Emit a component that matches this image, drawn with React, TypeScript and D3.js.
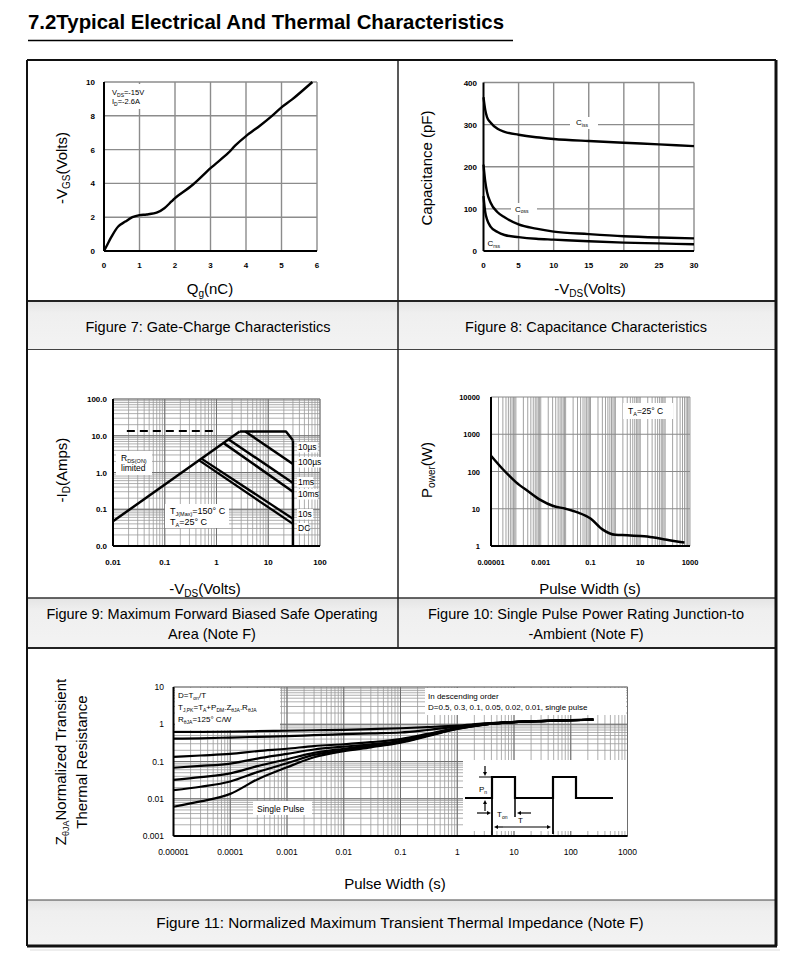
import React from 'react';
import * as d3 from 'd3';

const FONT = "'Liberation Sans', Arial, Helvetica, sans-serif";

// ---------------- Figure 7 : Gate charge ----------------
const fig7Qg = [0, 0.1, 0.2, 0.4, 0.6, 0.8, 1.0, 1.2, 1.5, 1.7, 1.9, 2.0, 2.5, 3.0, 3.5, 3.7, 4.0, 4.4, 4.7, 5.0, 5.3, 5.87];
const fig7Vgs = [0, 0.4, 0.8, 1.45, 1.74, 2.0, 2.12, 2.16, 2.28, 2.53, 2.93, 3.13, 3.92, 4.9, 5.8, 6.25, 6.8, 7.43, 7.94, 8.5, 8.97, 10];
const fig7XTicks = [0, 1, 2, 3, 4, 5, 6];
const fig7YTicks = [0, 2, 4, 6, 8, 10];

// ---------------- Figure 8 : Capacitance ----------------
const fig8Vds = [0, 0.25, 0.5, 1, 2, 3, 5, 7.5, 10, 15, 20, 25, 30];
const fig8Ciss = [365, 335, 318, 305, 290, 283, 276, 270, 266, 261, 257, 253, 249];
const fig8Coss = [205, 165, 140, 115, 92, 80, 63, 53, 46, 40, 35, 32, 30];
const fig8Crss = [130, 92, 75, 58, 45, 38, 33, 29, 27, 23, 20, 18, 16];
const fig8XTicks = [0, 5, 10, 15, 20, 25, 30];
const fig8YTicks = [0, 100, 200, 300, 400];

// ---------------- Figure 9 : SOA ----------------
const soaRdsV = [0.01, 2.8];
const soaRdsI = [0.047, 13];
const soa10usV = [2.8, 22, 30];
const soa10usI = [13, 13, 7.5];
const soaVmaxV = [30, 30];
const soaVmaxI = [7.5, 0.01];
const soa100usV = [3.6, 30];
const soa100usI = [13, 1.7];
const soa1msV = [1.75, 30];
const soa1msI = [7.8, 0.52];
const soa10msV = [1.4, 30];
const soa10msI = [6.2, 0.3];
const soa10sV = [0.52, 30];
const soa10sI = [2.35, 0.055];
const soaDcV = [0.47, 30];
const soaDcI = [2.1, 0.04];
const soaDashV = [0.0185, 0.87];
const soaDashI = [13.5, 13.5];
const fig9XTicks = [0.01, 0.1, 1, 10, 100];
const fig9XLabels = ['0.01', '0.1', '1', '10', '100'];
const fig9YTicks = [0.01, 0.1, 1, 10, 100];
const fig9YLabels = ['0.0', '0.1', '1.0', '10.0', '100.0'];
const soaLabels = ['10µs', '100µs', '1ms', '10ms', '10s', 'DC'];

// ---------------- Figure 10 : Single pulse power ----------------
const fig10Pulse = [1e-5, 3e-5, 1e-4, 3e-4, 1e-3, 3e-3, 0.01, 0.03, 0.1, 0.3, 1, 3, 10, 30, 100, 300, 600];
const fig10Power = [265, 115, 52, 30, 17, 12, 10, 8, 5.5, 2.8, 2.0, 1.95, 1.85, 1.72, 1.5, 1.32, 1.25];
const fig10XTicks = [1e-5, 1e-3, 0.1, 10, 1000];
const fig10XLabels = ['0.00001', '0.001', '0.1', '10', '1000'];
const fig10YTicks = [1, 10, 100, 1000, 10000];
const fig10YLabels = ['1', '10', '100', '1000', '10000'];

// ---------------- Figure 11 : Transient thermal impedance ----------------
const zthPulse = [1e-5, 3e-5, 1e-4, 3e-4, 1e-3, 3e-3, 1e-2, 3e-2, 0.1, 0.3, 1, 3, 10, 30, 100, 250];
const zthD05 = [0.62, 0.62, 0.63, 0.65, 0.67, 0.69, 0.71, 0.74, 0.78, 0.84, 0.92, 1.05, 1.16, 1.23, 1.29, 1.33];
const zthD03 = [0.41, 0.42, 0.44, 0.46, 0.48, 0.51, 0.54, 0.57, 0.6, 0.7, 0.86, 1.02, 1.15, 1.22, 1.29, 1.33];
const zthD01 = [0.133, 0.145, 0.16, 0.19, 0.22, 0.26, 0.29, 0.33, 0.4, 0.55, 0.8, 1.0, 1.14, 1.22, 1.28, 1.33];
const zthD005 = [0.068, 0.076, 0.088, 0.12, 0.16, 0.21, 0.25, 0.29, 0.36, 0.52, 0.78, 0.99, 1.14, 1.22, 1.28, 1.33];
const zthD002 = [0.032, 0.038, 0.048, 0.075, 0.115, 0.17, 0.22, 0.27, 0.34, 0.5, 0.77, 0.99, 1.14, 1.22, 1.28, 1.33];
const zthD001 = [0.017, 0.021, 0.029, 0.052, 0.09, 0.15, 0.2, 0.25, 0.33, 0.49, 0.76, 0.98, 1.14, 1.22, 1.28, 1.33];
const zthSingle = [0.0061, 0.0085, 0.0135, 0.033, 0.07, 0.13, 0.19, 0.24, 0.32, 0.48, 0.75, 0.98, 1.14, 1.22, 1.28, 1.33];
const zthSeries = [zthD05, zthD03, zthD01, zthD005, zthD002, zthD001, zthSingle];
const fig11XTicks = [1e-5, 1e-4, 1e-3, 1e-2, 0.1, 1, 10, 100, 1000];
const fig11XLabels = ['0.00001', '0.0001', '0.001', '0.01', '0.1', '1', '10', '100', '1000'];
const fig11YTicks = [0.001, 0.01, 0.1, 1, 10];
const fig11YLabels = ['0.001', '0.01', '0.1', '1', '10'];

function logGrid(lo: number, hi: number): number[] {
  const out: number[] = [];
  for (let e = Math.floor(Math.log10(lo) + 1e-9); e < Math.log10(hi) + 1e-9; e++) {
    for (let k = 1; k < 10; k++) {
      const v = k * Math.pow(10, e);
      if (v >= lo * 0.999 && v <= hi * 1.001) out.push(v);
    }
  }
  return out;
}

const GRID = '#8c8c8c';
const TITLE = 15;

function Fig7() {
  const x = d3.scaleLinear().domain([0, 6]).range([104, 317]);
  const y = d3.scaleLinear().domain([0, 10]).range([251, 82]);
  const line = d3.line<number>().x((d, i) => x(fig7Qg[i])).y(d => y(d)).curve(d3.curveCatmullRom);
  return (
    <g>
      {fig7XTicks.slice(1).map(t => <line key={'gx' + t} x1={x(t)} x2={x(t)} y1={y(0)} y2={y(10)} stroke={GRID} strokeWidth={1.4} />)}
      {fig7YTicks.slice(1).map(t => <line key={'gy' + t} x1={x(0)} x2={x(6)} y1={y(t)} y2={y(t)} stroke={GRID} strokeWidth={1.4} />)}
      <line x1={x(0)} x2={x(0)} y1={y(0)} y2={y(10)} stroke="#000" strokeWidth={2} />
      <line x1={x(0)} x2={x(6)} y1={y(0)} y2={y(0)} stroke="#000" strokeWidth={2} />
      <rect x={106} y={84} width={38} height={25} fill="#fff" />
      <text x={112} y={95} fontSize={7.5}>V<tspan fontSize={5} dy={1.5}>DS</tspan><tspan dy={-1.5}>=-15V</tspan></text>
      <text x={112} y={104} fontSize={7.5}>I<tspan fontSize={5} dy={1.5}>D</tspan><tspan dy={-1.5}>=-2.6A</tspan></text>
      <path d={line(fig7Vgs) || ''} fill="none" stroke="#000" strokeWidth={2.4} />
      {fig7XTicks.map(t => <text key={'tx' + t} x={x(t)} y={267.5} fontSize={8} fontWeight="bold" textAnchor="middle">{t}</text>)}
      {fig7YTicks.map(t => <text key={'ty' + t} x={95} y={y(t) + 3} fontSize={8} fontWeight="bold" textAnchor="end">{t}</text>)}
      <text x={210} y={294} fontSize={TITLE} textAnchor="middle">Q<tspan fontSize={10} dy={3}>g</tspan><tspan dy={-3}>(nC)</tspan></text>
      <text transform="translate(67,168) rotate(-90)" fontSize={TITLE} textAnchor="middle">-V<tspan fontSize={10} dy={3}>GS</tspan><tspan dy={-3}>(Volts)</tspan></text>
    </g>
  );
}

function Fig8() {
  const x = d3.scaleLinear().domain([0, 30]).range([483.5, 694]);
  const y = d3.scaleLinear().domain([0, 400]).range([251, 82.5]);
  const mk = (arr: number[]) => d3.line<number>().x((d, i) => x(fig8Vds[i])).y(d => y(d)).curve(d3.curveMonotoneX)(arr) || '';
  return (
    <g>
      {fig8XTicks.slice(1).map(t => <line key={'gx' + t} x1={x(t)} x2={x(t)} y1={y(0)} y2={y(400)} stroke={GRID} strokeWidth={1.4} />)}
      {fig8YTicks.slice(1).map(t => <line key={'gy' + t} x1={x(0)} x2={x(30)} y1={y(t)} y2={y(t)} stroke={GRID} strokeWidth={1.4} />)}
      <line x1={x(0)} x2={x(0)} y1={y(0)} y2={y(400)} stroke="#000" strokeWidth={2} />
      <line x1={x(0)} x2={x(30)} y1={y(0)} y2={y(0)} stroke="#000" strokeWidth={2} />
      <path d={mk(fig8Ciss)} fill="none" stroke="#000" strokeWidth={2.4} />
      <path d={mk(fig8Coss)} fill="none" stroke="#000" strokeWidth={2.4} />
      <path d={mk(fig8Crss)} fill="none" stroke="#000" strokeWidth={2.4} />
      <rect x={570} y={117} width={28} height={12} fill="#fff" />
      <text x={576} y={125} fontSize={8}>C<tspan fontSize={5} dy={1.5}>iss</tspan></text>
      <rect x={511} y={203} width={26} height={12} fill="#fff" />
      <text x={515} y={211.5} fontSize={8}>C<tspan fontSize={5} dy={1.5}>oss</tspan></text>
      <rect x={486} y={238} width={18} height={11} fill="#fff" />
      <text x={487.5} y={246} fontSize={8}>C<tspan fontSize={5} dy={1.5}>rss</tspan></text>
      {fig8XTicks.map(t => <text key={'tx' + t} x={x(t)} y={267.5} fontSize={8} fontWeight="bold" textAnchor="middle">{t}</text>)}
      {fig8YTicks.map(t => <text key={'ty' + t} x={477} y={y(t) + 3} fontSize={8} fontWeight="bold" textAnchor="end">{t}</text>)}
      <text x={590} y={294} fontSize={TITLE} textAnchor="middle">-V<tspan fontSize={10} dy={3}>DS</tspan><tspan dy={-3}>(Volts)</tspan></text>
      <text transform="translate(432,168) rotate(-90)" fontSize={TITLE} textAnchor="middle">Capacitance (pF)</text>
    </g>
  );
}

function Fig9() {
  const x = d3.scaleLog().domain([0.01, 100]).range([113, 320]);
  const y = d3.scaleLog().domain([0.01, 100]).range([546, 399]);
  const mk = (vs: number[], is: number[]) => d3.line<number>().x(d => x(d)).y((d, i) => y(is[i]))(vs) || '';
  const grid = logGrid(0.01, 100);
  const labelY = [450, 465, 485, 497, 517, 531];
  return (
    <g>
      {grid.map(v => <line key={'gx' + v} x1={x(v)} x2={x(v)} y1={y(0.01)} y2={y(100)} stroke="#9a9a9a" strokeWidth={0.8} />)}
      {grid.map(v => <line key={'gy' + v} x1={x(0.01)} x2={x(100)} y1={y(v)} y2={y(v)} stroke="#9a9a9a" strokeWidth={0.8} />)}
      {fig9XTicks.map(v => <line key={'mx' + v} x1={x(v)} x2={x(v)} y1={y(0.01)} y2={y(100)} stroke="#707070" strokeWidth={1} />)}
      {fig9YTicks.map(v => <line key={'my' + v} x1={x(0.01)} x2={x(100)} y1={y(v)} y2={y(v)} stroke="#707070" strokeWidth={1} />)}
      <line x1={x(0.01)} x2={x(0.01)} y1={y(0.01)} y2={y(100)} stroke="#000" strokeWidth={2} />
      <line x1={x(0.01)} x2={x(100)} y1={y(0.01)} y2={y(0.01)} stroke="#000" strokeWidth={2} />
      <path d={mk(soaDashV, soaDashI)} fill="none" stroke="#000" strokeWidth={2} strokeDasharray="8,5" />
      <path d={mk(soaRdsV, soaRdsI)} fill="none" stroke="#000" strokeWidth={2.5} />
      <path d={mk(soa10usV, soa10usI)} fill="none" stroke="#000" strokeWidth={2.5} strokeLinejoin="round" />
      <path d={mk(soaVmaxV, soaVmaxI)} fill="none" stroke="#000" strokeWidth={2.5} />
      <path d={mk(soa100usV, soa100usI)} fill="none" stroke="#000" strokeWidth={2.5} />
      <path d={mk(soa1msV, soa1msI)} fill="none" stroke="#000" strokeWidth={2.5} />
      <path d={mk(soa10msV, soa10msI)} fill="none" stroke="#000" strokeWidth={2.5} />
      <path d={mk(soa10sV, soa10sI)} fill="none" stroke="#000" strokeWidth={2.3} />
      <path d={mk(soaDcV, soaDcI)} fill="none" stroke="#000" strokeWidth={2.3} />
      {soaLabels.map((t, i) => (
        <g key={t}>
          <rect x={297} y={labelY[i] - 8} width={t.length * 4.7 + 2} height={10.5} fill="#fff" />
          <text x={298} y={labelY[i]} fontSize={8.5}>{t}</text>
        </g>
      ))}
      <rect x={116} y={451} width={36} height={24} fill="#fff" />
      <text x={121} y={461} fontSize={8.5}>R<tspan fontSize={5.5} dy={1.5}>DS(ON)</tspan></text>
      <text x={121} y={471} fontSize={8.5}>limited</text>
      <rect x={165} y={504} width={64} height={24} fill="#fff" />
      <text x={170} y={514} fontSize={9}>T<tspan fontSize={5.5} dy={1.5}>J(Max)</tspan><tspan dy={-1.5}>=150° C</tspan></text>
      <text x={170} y={525} fontSize={9}>T<tspan fontSize={5.5} dy={1.5}>A</tspan><tspan dy={-1.5}>=25° C</tspan></text>
      {fig9XTicks.map((v, i) => <text key={'tx' + v} x={x(v)} y={565} fontSize={8} fontWeight="bold" textAnchor="middle">{fig9XLabels[i]}</text>)}
      {fig9YTicks.map((v, i) => <text key={'ty' + v} x={107} y={y(v) + 3} fontSize={8} fontWeight="bold" textAnchor="end">{fig9YLabels[i]}</text>)}
      <text x={205} y={594} fontSize={TITLE} textAnchor="middle">-V<tspan fontSize={10} dy={3}>DS</tspan><tspan dy={-3}>(Volts)</tspan></text>
      <text transform="translate(67,470) rotate(-90)" fontSize={TITLE} textAnchor="middle">-I<tspan fontSize={10} dy={3}>D</tspan><tspan dy={-3}>(Amps)</tspan></text>
    </g>
  );
}

function Fig10() {
  const x = d3.scaleLog().domain([1e-5, 1000]).range([491, 690]);
  const y = d3.scaleLog().domain([1, 10000]).range([546, 397]);
  const line = d3.line<number>().x((d, i) => x(fig10Pulse[i])).y(d => y(d)).curve(d3.curveMonotoneX);
  const grid = logGrid(1e-5, 1000);
  return (
    <g>
      {grid.map(v => <line key={'gx' + v} x1={x(v)} x2={x(v)} y1={y(1)} y2={y(10000)} stroke="#a2a2a2" strokeWidth={1} />)}
      {fig10YTicks.map(v => <line key={'gy' + v} x1={x(1e-5)} x2={x(1000)} y1={y(v)} y2={y(v)} stroke="#8a8a8a" strokeWidth={1.2} />)}
      <line x1={x(1e-5)} x2={x(1e-5)} y1={y(1)} y2={y(10000)} stroke="#000" strokeWidth={2} />
      <line x1={x(1e-5)} x2={x(1000)} y1={y(1)} y2={y(1)} stroke="#000" strokeWidth={2} />
      <rect x={623} y={403} width={50} height={16} fill="#fff" />
      <text x={628} y={414} fontSize={8.5}>T<tspan fontSize={5.5} dy={1.5}>A</tspan><tspan dy={-1.5}>=25° C</tspan></text>
      <path d={line(fig10Power) || ''} fill="none" stroke="#000" strokeWidth={2.5} />
      {fig10XTicks.map((v, i) => <text key={'tx' + v} x={x(v)} y={564.5} fontSize={7.5} fontWeight="bold" textAnchor="middle">{fig10XLabels[i]}</text>)}
      {fig10YTicks.map((v, i) => <text key={'ty' + v} x={480} y={y(v) + 3} fontSize={7.5} fontWeight="bold" textAnchor="end">{fig10YLabels[i]}</text>)}
      <text x={590} y={594} fontSize={TITLE} textAnchor="middle">Pulse Width (s)</text>
      <text transform="translate(432,470) rotate(-90)" fontSize={TITLE} textAnchor="middle">P<tspan fontSize={10} dy={3}>ower</tspan><tspan dy={-3}>(W)</tspan></text>
    </g>
  );
}

function Arrow({ x1, y1, x2, y2 }: { x1: number; y1: number; x2: number; y2: number }) {
  const ang = Math.atan2(y2 - y1, x2 - x1);
  const L = 4, Wd = 2;
  const bx = x2 - L * Math.cos(ang), by = y2 - L * Math.sin(ang);
  const px = -Math.sin(ang) * Wd, py = Math.cos(ang) * Wd;
  return (
    <g>
      <line x1={x1} y1={y1} x2={bx} y2={by} stroke="#000" strokeWidth={1.2} />
      <polygon points={`${x2},${y2} ${bx + px},${by + py} ${bx - px},${by - py}`} fill="#000" />
    </g>
  );
}

function Fig11() {
  const x = d3.scaleLog().domain([1e-5, 1000]).range([173.5, 627.5]);
  const y = d3.scaleLog().domain([0.001, 10]).range([836, 687]);
  const line = d3.line<number>().x((d, i) => x(zthPulse[i])).y(d => y(d)).curve(d3.curveMonotoneX);
  const gx = logGrid(1e-5, 1000);
  const gy = logGrid(0.001, 10);
  return (
    <g>
      {gx.map(v => <line key={'gx' + v} x1={x(v)} x2={x(v)} y1={y(0.001)} y2={y(10)} stroke="#9a9a9a" strokeWidth={0.8} />)}
      {gy.map(v => <line key={'gy' + v} x1={x(1e-5)} x2={x(1000)} y1={y(v)} y2={y(v)} stroke="#9a9a9a" strokeWidth={0.8} />)}
      {fig11XTicks.map(v => <line key={'mx' + v} x1={x(v)} x2={x(v)} y1={y(0.001)} y2={y(10)} stroke="#6e6e6e" strokeWidth={1} />)}
      {fig11YTicks.map(v => <line key={'my' + v} x1={x(1e-5)} x2={x(1000)} y1={y(v)} y2={y(v)} stroke="#6e6e6e" strokeWidth={1} />)}
      <line x1={x(1e-5)} x2={x(1e-5)} y1={y(0.001)} y2={y(10)} stroke="#000" strokeWidth={2} />
      <line x1={x(1e-5)} x2={x(1000)} y1={y(0.001)} y2={y(0.001)} stroke="#000" strokeWidth={2} />
      <rect x={175} y={688} width={105} height={42} fill="#fff" />
      <text x={178} y={698} fontSize={8}>D=T<tspan fontSize={5} dy={1.5}>on</tspan><tspan dy={-1.5}>/T</tspan></text>
      <text x={178} y={710} fontSize={8}>T<tspan fontSize={5} dy={1.5}>J,PK</tspan><tspan dy={-1.5}>=T</tspan><tspan fontSize={5} dy={1.5}>A</tspan><tspan dy={-1.5}>+P</tspan><tspan fontSize={5} dy={1.5}>DM</tspan><tspan dy={-1.5}>.Z</tspan><tspan fontSize={5} dy={1.5}>θJA</tspan><tspan dy={-1.5}>.R</tspan><tspan fontSize={5} dy={1.5}>θJA</tspan></text>
      <text x={178} y={722} fontSize={8}>R<tspan fontSize={5} dy={1.5}>θJA</tspan><tspan dy={-1.5}>=125° C/W</tspan></text>
      <rect x={425} y={688} width={201} height={27} fill="#fff" />
      <text x={428} y={699} fontSize={8}>In descending order</text>
      <text x={428} y={710} fontSize={8}>D=0.5, 0.3, 0.1, 0.05, 0.02, 0.01, single pulse</text>
      <rect x={253} y={801} width={59} height={14} fill="#fff" />
      <text x={257} y={811.5} fontSize={8.5}>Single Pulse</text>
      {zthSeries.map((s, i) => <path key={'z' + i} d={line(s) || ''} fill="none" stroke="#000" strokeWidth={2.2} />)}
      <g transform="translate(463,760)">
        <rect x={0} y={0} width={164} height={71} fill="#fff" />
        <polyline points="2,38 29,38 29,17 52,17 52,38 90,38 90,17 113,17 113,38 150,38" fill="none" stroke="#000" strokeWidth={2.2} />
        <line x1={29} x2={29} y1={38} y2={75} stroke="#000" strokeWidth={1.8} />
        <line x1={90} x2={90} y1={38} y2={74} stroke="#000" strokeWidth={1.8} />
        <line x1={52} x2={52} y1={38} y2={57} stroke="#000" strokeWidth={1.5} />
        <line x1={16} x2={29} y1={17} y2={17} stroke="#000" strokeWidth={1} />
        <Arrow x1={22} y1={6} x2={22} y2={16} />
        <Arrow x1={22} y1={51} x2={22} y2={40} />
        <text x={16} y={32} fontSize={8}>P<tspan fontSize={5} dy={1.5}>n</tspan></text>
        <Arrow x1={14} y1={53} x2={28} y2={53} />
        <Arrow x1={68} y1={53} x2={54} y2={53} />
        <text x={34} y={57} fontSize={8}>T<tspan fontSize={5} dy={1.5}>on</tspan></text>
        <Arrow x1={40} y1={67} x2={31} y2={67} />
        <Arrow x1={40} y1={67} x2={88} y2={67} />
        <text x={55} y={63} fontSize={8}>T</text>
      </g>
      {fig11XTicks.map((v, i) => <text key={'tx' + v} x={x(v)} y={855} fontSize={8.5} textAnchor="middle">{fig11XLabels[i]}</text>)}
      {fig11YTicks.map((v, i) => <text key={'ty' + v} x={164} y={y(v) + 3} fontSize={8.5} textAnchor="end">{fig11YLabels[i]}</text>)}
      <text x={395} y={889} fontSize={TITLE} textAnchor="middle">Pulse Width (s)</text>
      <text transform="translate(66,762) rotate(-90)" fontSize={15} textAnchor="middle">Z<tspan fontSize={9} dy={3}>θJA</tspan><tspan dy={-3}>Normalized Transient</tspan></text>
      <text transform="translate(87,762) rotate(-90)" fontSize={15} textAnchor="middle">Thermal Resistance</text>
    </g>
  );
}

export default function App() {
  return (
    <svg width={790} height={958} style={{ position: 'absolute', left: 0, top: 0 }} fontFamily={FONT}>
      <defs>
        <linearGradient id="cap" x1="0" y1="0" x2="0" y2="1">
          <stop offset="0" stopColor="#e4e4e4" />
          <stop offset="0.25" stopColor="#efefef" />
          <stop offset="1" stopColor="#f3f3f3" />
        </linearGradient>
      </defs>
      <rect width={790} height={958} fill="#fff" />
      <text x={28} y={29} fontSize={20.4} fontWeight="bold">7.2Typical Electrical And Thermal Characteristics</text>
      <line x1={28} x2={513} y1={40.5} y2={40.5} stroke="#000" strokeWidth={1.5} />

      <rect x={27} y={301} width={749} height={48} fill="url(#cap)" />
      <rect x={27} y={598} width={749} height={50} fill="url(#cap)" />
      <rect x={27} y={900} width={749} height={46} fill="url(#cap)" />

      <Fig7 />
      <Fig8 />
      <Fig9 />
      <Fig10 />
      <Fig11 />

      <line x1={27} x2={776} y1={301} y2={301} stroke="#222" strokeWidth={2} />
      <line x1={27} x2={776} y1={349.5} y2={349.5} stroke="#444" strokeWidth={1} />
      <line x1={27} x2={776} y1={598} y2={598} stroke="#333" strokeWidth={1.5} />
      <line x1={27} x2={776} y1={648} y2={648} stroke="#222" strokeWidth={2} />
      <line x1={27} x2={776} y1={900} y2={900} stroke="#444" strokeWidth={1} />
      <line x1={398} x2={398} y1={60} y2={648} stroke="#222" strokeWidth={1.5} />
      <line x1={27} x2={776} y1={60} y2={60} stroke="#111" strokeWidth={2} />
      <line x1={27} x2={27} y1={60} y2={946} stroke="#111" strokeWidth={2} />
      <line x1={776} x2={776} y1={60} y2={946} stroke="#111" strokeWidth={3} />
      <line x1={27} x2={777} y1={946} y2={946} stroke="#111" strokeWidth={3} />
      <line x1={30} x2={780} y1={950} y2={950} stroke="#ddd" strokeWidth={1} />

      <text x={208} y={332} fontSize={14.5} textAnchor="middle">Figure 7: Gate-Charge Characteristics</text>
      <text x={586} y={332} fontSize={14.5} textAnchor="middle">Figure 8: Capacitance Characteristics</text>
      <text x={212} y={619} fontSize={14.5} textAnchor="middle">Figure 9: Maximum Forward Biased Safe Operating</text>
      <text x={212} y={639} fontSize={14.5} textAnchor="middle">Area (Note F)</text>
      <text x={586} y={619} fontSize={14.5} textAnchor="middle">Figure 10: Single Pulse Power Rating Junction-to</text>
      <text x={586} y={639} fontSize={14.5} textAnchor="middle">-Ambient (Note F)</text>
      <text x={400} y={928} fontSize={15.3} textAnchor="middle">Figure 11: Normalized Maximum Transient Thermal Impedance (Note F)</text>
    </svg>
  );
}
